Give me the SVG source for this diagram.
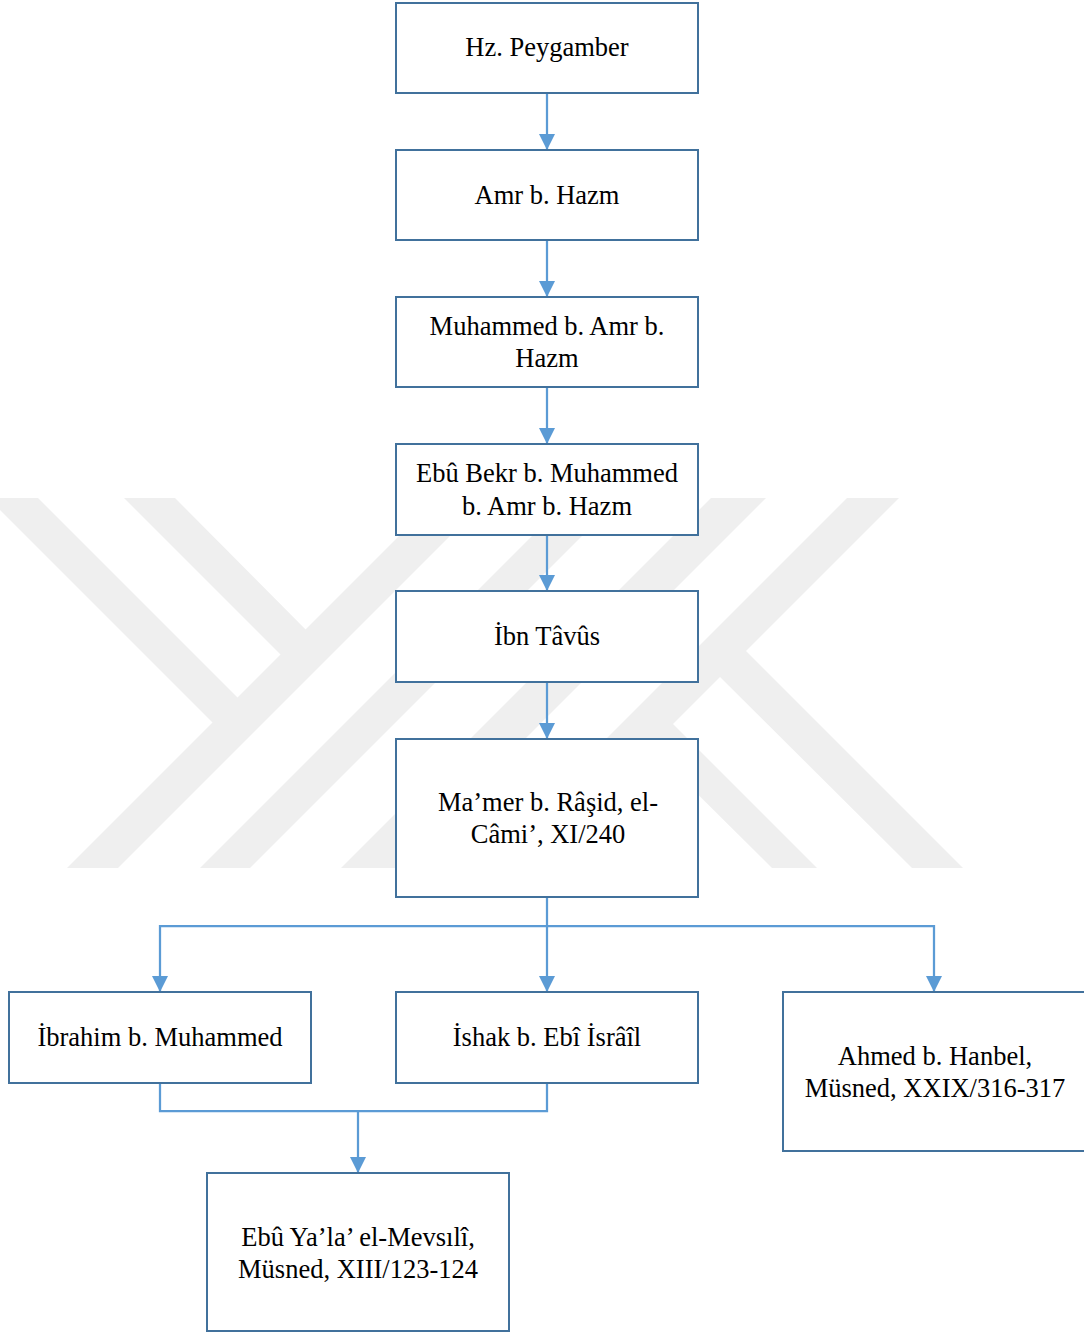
<svg xmlns="http://www.w3.org/2000/svg" width="1084" height="1333" viewBox="0 0 1084 1333">
<style>
.box{fill:#ffffff;stroke:#41719C;stroke-width:2}
.lbl{font-family:"Liberation Serif","Times New Roman",serif;font-size:26.5px;fill:#000000;text-anchor:middle}
.con{fill:none;stroke:#5B9BD5;stroke-width:2.25}
.wm{fill:#efefef}
</style>
<defs>
<marker id="arr" viewBox="0 0 16 16" refX="16" refY="8" markerWidth="16" markerHeight="16" markerUnits="userSpaceOnUse" orient="auto">
<path d="M0,0 L16,8 L0,16 z" fill="#5B9BD5"/>
</marker>
</defs>
<rect x="0" y="0" width="1084" height="1333" fill="#ffffff"/>
<g id="watermark">
<polygon class="wm" points="437,498 488,498 118,868 67,868"/>
<polygon class="wm" points="570,498 620,498 250,868 200,868"/>
<polygon class="wm" points="711,498 766,498 396,868 341,868"/>
<polygon class="wm" points="847,498 899,498 529,868 477,868"/>
<polygon class="wm" points="-12,498 38,498 250,710 225,735"/>
<polygon class="wm" points="124,498 175,498 318,642 293,667"/>
<polygon class="wm" points="660,711 817,868 772,868 637,734"/>
<polygon class="wm" points="733,638 963,868 912,868 707,664"/>
</g>
<g id="connectors">
<line class="con" x1="547" y1="93" x2="547" y2="150" marker-end="url(#arr)"/>
<line class="con" x1="547" y1="240" x2="547" y2="297" marker-end="url(#arr)"/>
<line class="con" x1="547" y1="387" x2="547" y2="444" marker-end="url(#arr)"/>
<line class="con" x1="547" y1="535" x2="547" y2="591" marker-end="url(#arr)"/>
<line class="con" x1="547" y1="682" x2="547" y2="739" marker-end="url(#arr)"/>
<line class="con" x1="547" y1="897" x2="547" y2="992" marker-end="url(#arr)"/>
<polyline class="con" points="547,926 160,926 160,992" marker-end="url(#arr)"/>
<polyline class="con" points="547,926 934,926 934,992" marker-end="url(#arr)"/>
<polyline class="con" points="160,1083 160,1111 547,1111 547,1083"/>
<line class="con" x1="358" y1="1111" x2="358" y2="1173" marker-end="url(#arr)"/>
</g>
<g id="n1"><rect class="box" x="396" y="3" width="302" height="90"/><text class="lbl" x="547" y="56">Hz. Peygamber</text></g>
<g id="n2"><rect class="box" x="396" y="150" width="302" height="90"/><text class="lbl" x="547" y="204">Amr b. Hazm</text></g>
<g id="n3"><rect class="box" x="396" y="297" width="302" height="90"/><text class="lbl" x="547" y="335">Muhammed b. Amr b.</text><text class="lbl" x="547" y="367">Hazm</text></g>
<g id="n4"><rect class="box" x="396" y="444" width="302" height="91"/><text class="lbl" x="547" y="482">Ebû Bekr b. Muhammed</text><text class="lbl" x="547" y="515">b. Amr b. Hazm</text></g>
<g id="n5"><rect class="box" x="396" y="591" width="302" height="91"/><text class="lbl" x="547" y="645">İbn Tâvûs</text></g>
<g id="n6"><rect class="box" x="396" y="739" width="302" height="158"/><text class="lbl" x="548" y="811">Ma’mer b. Râşid, el-</text><text class="lbl" x="548" y="843">Câmi’, XI/240</text></g>
<g id="n7"><rect class="box" x="9" y="992" width="302" height="91"/><text class="lbl" x="160" y="1046">İbrahim b. Muhammed</text></g>
<g id="n8"><rect class="box" x="396" y="992" width="302" height="91"/><text class="lbl" x="547" y="1046">İshak b. Ebî İsrâîl</text></g>
<g id="n9"><rect class="box" x="783" y="992" width="302" height="159"/><text class="lbl" x="935" y="1065">Ahmed b. Hanbel,</text><text class="lbl" x="935" y="1097">Müsned, XXIX/316-317</text></g>
<g id="n10"><rect class="box" x="207" y="1173" width="302" height="158"/><text class="lbl" x="358" y="1246">Ebû Ya’la’ el-Mevsılî,</text><text class="lbl" x="358" y="1278">Müsned, XIII/123-124</text></g>
</svg>
